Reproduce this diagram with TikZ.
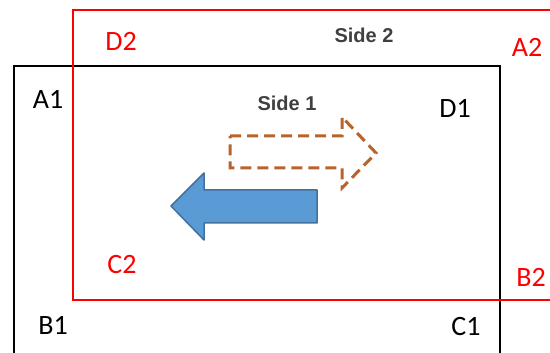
\documentclass[tikz,border=0pt]{standalone}
\usepackage{fontspec}
\setmainfont{Carlito}
\newfontfamily\sidefont{Liberation Sans}
\usetikzlibrary{positioning}
\definecolor{sidegray}{RGB}{64,64,64}
\definecolor{moveblue}{RGB}{91,155,213}
\definecolor{moveedge}{RGB}{65,113,156}
\definecolor{movebrown}{RGB}{184,98,44}
\tikzset{
    corner/.style={font=\fontsize{28}{30}\selectfont,inner sep=0pt},
    sidelabel/.style={font=\sidefont\bfseries\fontsize{20}{22}\selectfont,text=sidegray,inner sep=0pt},
  }

\begin{document}
\begin{tikzpicture}[x=1pt,y=-1pt]
	    \useasboundingbox (0,0) rectangle (550,353);
	    \begin{scope}
	    \clip (0,0) rectangle (550,353);
		    % the two sides
		    \draw[line width=2pt] (14,420) -- (14,66) -- (500,66) -- (500,420);
		    \draw[red,line width=2pt] (600,10) -- (73,10) -- (73,300) -- (600,300);
	    \end{scope}
	    % corner labels, side 1
		    \node[corner] (a1) at (48,99) {A1};
		    \node[corner] (b1) at (53,325) {B1};
		    \node[corner] (c1) at (466,327) {C1};
		    \node[corner] (d1) at (455,108) {D1};
	    % corner labels, side 2
		    \node[corner,red] (a2) at (527,47) {A2};
		    \node[corner,red] (b2) at (531,277) {B2};
		    \node[corner,red] (c2) at (122,265) {C2};
		    \node[corner,red] (d2) at (121,41) {D2};
		    \node[sidelabel] (s1) at (287,103) {Side 1};
		    \node[sidelabel] (s2) at (364,35) {Side 2};
	    % movement arrows
		    \draw[movebrown,line width=3pt,dash pattern=on 11pt off 6pt]
		      (230,136) -- (342,136) -- (342,117) -- (376,153) -- (342,188) -- (342,168) -- (230,168) -- cycle;
		    \draw[moveedge,fill=moveblue,line width=1.5pt,line join=round]
		      (317,190) -- (204,190) -- (204,173) -- (171,206) -- (204,240) -- (204,223) -- (317,223) -- cycle;
		\end{tikzpicture}
\end{document}
